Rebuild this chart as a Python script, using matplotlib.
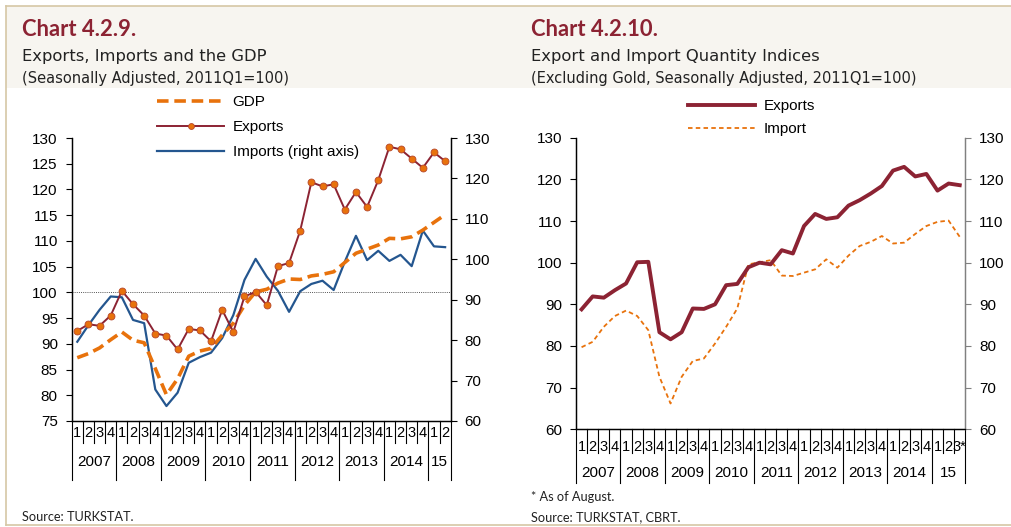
import matplotlib
matplotlib.use("Agg")
import matplotlib.pyplot as plt
import matplotlib.transforms as mtransforms
from matplotlib.patches import Rectangle
from matplotlib.lines import Line2D

# ---------------- data ----------------
# Chart 4.2.9 : 2007Q1 .. 2015Q2
q_labels_1 = ["1", "2", "3", "4"] * 8 + ["1", "2"]
years_1 = ["2007", "2008", "2009", "2010", "2011", "2012", "2013", "2014", "15"]
gdp = [87.3, 88.1, 89.2, 90.8, 92.3, 90.7, 90.2, 85.2, 80.1, 83.2, 87.6, 88.6,
       89.1, 91.7, 94.0, 97.5, 100.1, 100.6, 101.8, 102.6, 102.5, 103.2, 103.5,
       104.0, 105.8, 107.6, 108.4, 109.2, 110.5, 110.4, 110.8, 112.1, 113.6, 115.1]
exports_1 = [92.5, 93.8, 93.5, 95.5, 100.3, 97.7, 95.5, 92.0, 91.6, 88.9, 92.9,
             92.6, 90.5, 96.6, 92.3, 99.2, 100.1, 97.5, 105.1, 105.7, 112.0,
             121.4, 120.6, 121.0, 116.1, 119.5, 116.6, 121.8, 128.3, 127.8,
             126.0, 124.2, 127.2, 125.5]
imports_1 = [79.6, 83.7, 87.5, 90.8, 90.6, 85.0, 84.2, 67.8, 63.7, 67.0, 74.4,
             75.8, 76.9, 80.5, 86.2, 94.9, 100.1, 95.7, 92.2, 87.0, 92.1, 93.9,
             94.7, 92.4, 99.4, 105.8, 99.8, 102.1, 99.6, 101.1, 98.3, 107.1,
             103.2, 103.0]

# Chart 4.2.10 : 2007Q1 .. 2015Q3*
q_labels_2 = ["1", "2", "3", "4"] * 8 + ["1", "2", "3*"]
years_2 = ["2007", "2008", "2009", "2010", "2011", "2012", "2013", "2014", "15"]
exports_2 = [88.8, 91.9, 91.6, 93.4, 95.0, 100.1, 100.2, 83.3, 81.6, 83.3, 89.0,
             88.9, 90.0, 94.6, 94.9, 98.9, 100.0, 99.6, 103.0, 102.2, 108.8,
             111.7, 110.5, 110.9, 113.7, 115.0, 116.6, 118.4, 122.1, 123.0,
             120.7, 121.3, 117.3, 119.0, 118.6]
import_2 = [79.7, 81.0, 84.6, 87.2, 88.5, 87.2, 83.8, 72.6, 66.2, 72.6, 76.4,
            77.0, 80.6, 84.6, 89.0, 99.6, 100.1, 100.6, 96.9, 96.8, 97.6, 98.4,
            100.8, 98.8, 101.7, 104.0, 105.0, 106.4, 104.6, 104.8, 106.9, 108.8,
            109.8, 110.1, 106.2]

# ---------------- style ----------------
W, H = 1011, 527
DARKRED = "#8c2333"
ORANGE = "#e8720c"
BLUE = "#24568f"
TAN = "#d6c7a5"
BEIGE = "#f7f5f0"
NUM_FONT = "Liberation Sans"
TITLE_FONT = "Lato"
SUB_FONT = "DejaVu Sans"

plt.rcParams["font.family"] = NUM_FONT
fig = plt.figure(figsize=(W / 100, H / 100), dpi=100)
fig.patch.set_facecolor("white")


def fx(px):
    return px / W


def fy(py):
    return 1 - py / H


# header band and frame
fig.patches.append(Rectangle((fx(6), fy(88)), fx(W - 6), fy(6) - fy(88),
                             transform=fig.transFigure, facecolor=BEIGE,
                             edgecolor="none", zorder=0))
fig.add_artist(Line2D([fx(6), 1], [fy(6), fy(6)], color=TAN, lw=1.2))
fig.add_artist(Line2D([fx(6), 1], [fy(524.5), fy(524.5)], color=TAN, lw=1.2))
fig.add_artist(Line2D([fx(6), fx(6)], [fy(6), fy(524.5)], color=TAN, lw=1.2))

# titles
for x0, t1, t2, t3 in [
    (22, "Chart 4.2.9.", "Exports, Imports and the GDP",
     "(Seasonally Adjusted, 2011Q1=100)"),
    (531, "Chart 4.2.10.", "Export and Import Quantity Indices",
     "(Excluding Gold, Seasonally Adjusted, 2011Q1=100)"),
]:
    fig.text(fx(x0), fy(29), t1, fontsize=15.8, fontweight="bold",
             color=DARKRED, family=TITLE_FONT, va="center", ha="left")
    fig.text(fx(x0), fy(57), t2, fontsize=11.8, color="#222222",
             family=SUB_FONT, va="center", ha="left")
    fig.text(fx(x0), fy(78), t3, fontsize=10.5, color="#222222",
             family=SUB_FONT, va="center", ha="left")

fig.text(fx(22), fy(517), "Source: TURKSTAT.", fontsize=9.2,
         family=TITLE_FONT, color="#222222", va="center")
fig.text(fx(531), fy(497), "* As of August.", fontsize=9.2,
         family=TITLE_FONT, color="#222222", va="center")
fig.text(fx(531), fy(517), "Source: TURKSTAT, CBRT.", fontsize=9.2,
         family=TITLE_FONT, color="#222222", va="center")


def make_axes(left, right, top, bottom):
    return fig.add_axes([fx(left), fy(bottom), fx(right - left),
                         fy(top) - fy(bottom)])


def style_axes(ax, right_color="black"):
    ax.spines["top"].set_visible(False)
    ax.spines["bottom"].set_linewidth(0.9)
    ax.spines["left"].set_linewidth(0.9)
    ax.spines["right"].set_linewidth(0.9)
    ax.spines["right"].set_color(right_color)
    ax.tick_params(axis="y", direction="out", length=4, width=0.8,
                   labelsize=11, pad=6)
    ax.tick_params(axis="x", length=0, labelbottom=False)
    ax.set_facecolor("none")


def quarter_table(ax, qlabels, years, q_y, y_y, qsep, ysep, fsize_q, fsize_y):
    trans = mtransforms.blended_transform_factory(ax.transData, ax.transAxes)
    n = len(qlabels)
    for i, lab in enumerate(qlabels):
        ax.text(i, q_y, lab, transform=trans, ha="center", va="center",
                fontsize=fsize_q, clip_on=False)
    for b in range(n + 1):
        is_year = (b % 4 == 0) or b == n
        ax.plot([b - 0.5, b - 0.5], [0, ysep if is_year else qsep],
                transform=trans, color="black", lw=0.8, clip_on=False)
    for k, yr in enumerate(years):
        start = 4 * k
        end = min(4 * k + 4, n)
        ax.text((start + end - 1) / 2, y_y, yr, transform=trans, ha="center",
                va="center", fontsize=fsize_y, clip_on=False)


# ---------------- Chart 4.2.9 ----------------
ax1 = make_axes(71.7, 450.7, 138, 421)
ax1b = ax1.twinx()
x1 = list(range(len(gdp)))
ax1.set_xlim(-0.5, len(gdp) - 0.5)
ax1.set_ylim(75, 130)
ax1.set_yticks(range(75, 131, 5))
ax1b.set_ylim(60, 130)
ax1b.set_yticks(range(60, 131, 10))
style_axes(ax1)
style_axes(ax1b)
ax1.axhline(100, color="#555555", lw=0.7, ls=(0, (1, 1.2)), zorder=1)
l_imp, = ax1b.plot(x1, imports_1, color=BLUE, lw=1.6, zorder=2,
                   label="Imports (right axis)")
l_gdp, = ax1.plot(x1, gdp, color=ORANGE, lw=2.6, ls=(0, (3.2, 1.6)), zorder=3,
                  label="GDP")
l_exp, = ax1.plot(x1, exports_1, color=DARKRED, lw=1.4, marker="o",
                  markersize=5, markerfacecolor=ORANGE,
                  markeredgecolor="#b5452b", markeredgewidth=0.6, zorder=4,
                  label="Exports")
ax1.set_zorder(ax1b.get_zorder() + 1)
quarter_table(ax1, q_labels_1, years_1, -0.0435, -0.1438, -0.078, -0.2085,
              10.5, 11)
fig.legend(handles=[l_gdp, l_exp, l_imp], loc="upper left",
           bbox_to_anchor=(fx(157), fy(95)), frameon=False, fontsize=11,
           handlelength=4.4, handletextpad=0.55, labelspacing=0.73,
           borderpad=0, borderaxespad=0, markerscale=0.85)

# ---------------- Chart 4.2.10 ----------------
ax2 = make_axes(576, 965.3, 137.7, 429.3)
ax2b = ax2.twinx()
x2 = list(range(len(exports_2)))
ax2.set_xlim(-0.5, len(exports_2) - 0.5)
for a in (ax2, ax2b):
    a.set_ylim(60, 130)
    a.set_yticks(range(60, 131, 10))
style_axes(ax2, right_color="#808080")
style_axes(ax2b, right_color="#808080")
ax2b.tick_params(axis="y", color="#808080")
l2_exp, = ax2.plot(x2, exports_2, color=DARKRED, lw=2.8, zorder=4,
                   label="Exports")
l2_imp, = ax2.plot(x2, import_2, color=ORANGE, lw=1.3, ls=(0, (2.5, 1.8)),
                   zorder=3, label="Import")
quarter_table(ax2, q_labels_2, years_2, -0.0597, -0.151, -0.0823, -0.185,
              10.5, 11)
fig.legend(handles=[l2_exp, l2_imp], loc="upper left",
           bbox_to_anchor=(fx(688), fy(99)), frameon=False, fontsize=11,
           handlelength=4.4, handletextpad=0.55, labelspacing=0.6,
           borderpad=0, borderaxespad=0)

fig.savefig("out.png", dpi=100)
